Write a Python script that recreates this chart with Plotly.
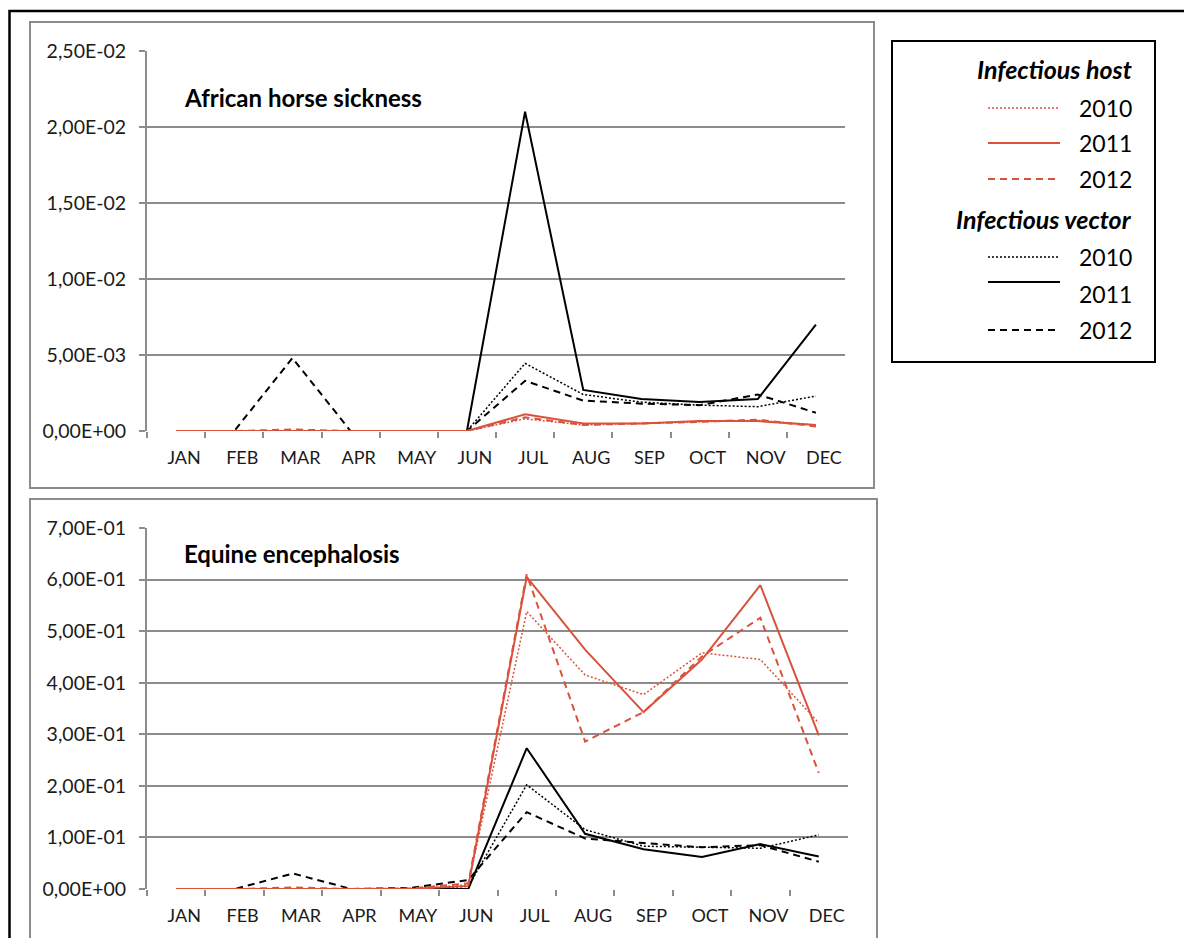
import plotly.graph_objects as go

OFF = 8  # page body margin
W, H = 1192 - OFF, 938 - OFF
months = ["JAN", "FEB", "MAR", "APR", "MAY", "JUN", "JUL", "AUG", "SEP", "OCT", "NOV", "DEC"]

# African horse sickness
ahs_host_2010 = [0, 0, 0, 0, 0, 0, 0.0008, 0.0004, 0.0005, 0.0006, 0.0007, 0.0004]
ahs_host_2011 = [0, 0, 0, 0, 0, 0, 0.0011, 0.0005, 0.0005, 0.00065, 0.00065, 0.0004]
ahs_host_2012 = [0, 0, 0.0001, 0, 0, 0, 0.0009, 0.0004, 0.0005, 0.0006, 0.00075, 0.0003]
ahs_vec_2010 = [0, 0, 0, 0, 0, 0, 0.00445, 0.0024, 0.0019, 0.0017, 0.0016, 0.0023]
ahs_vec_2011 = [0, 0, 0, 0, 0, 0, 0.0210, 0.0027, 0.0021, 0.0019, 0.0021, 0.0070]
ahs_vec_2012 = [0, 0, 0.0048, 0, 0, 0, 0.0033, 0.0020, 0.0018, 0.0017, 0.0024, 0.0012]

# Equine encephalosis
ee_host_2010 = [0, 0, 0, 0, 0, 0.008, 0.538, 0.415, 0.377, 0.458, 0.445, 0.322]
ee_host_2011 = [0, 0, 0, 0, 0, 0.006, 0.605, 0.464, 0.343, 0.445, 0.589, 0.298]
ee_host_2012 = [0, 0, 0.003, 0, 0.001, 0.011, 0.610, 0.286, 0.343, 0.451, 0.526, 0.225]
ee_vec_2010 = [0, 0, 0, 0, 0, 0.005, 0.202, 0.115, 0.083, 0.081, 0.079, 0.105]
ee_vec_2011 = [0, 0, 0, 0, 0, 0, 0.273, 0.107, 0.077, 0.062, 0.087, 0.063]
ee_vec_2012 = [0, 0, 0.030, 0, 0.002, 0.0175, 0.149, 0.098, 0.089, 0.081, 0.085, 0.053]

ahs_tickvals = [0, 0.005, 0.01, 0.015, 0.02, 0.025]
ahs_ticktext = ["0,00E+00", "5,00E-03", "1,00E-02", "1,50E-02", "2,00E-02", "2,50E-02"]
ee_tickvals = [0, 0.1, 0.2, 0.3, 0.4, 0.5, 0.6, 0.7]
ee_ticktext = ["0,00E+00", "1,00E-01", "2,00E-01", "3,00E-01", "4,00E-01", "5,00E-01", "6,00E-01", "7,00E-01"]

years = ["2010", "2011", "2012"]
RED = "#D9533C"
BLACK = "#000000"
GRID = "#8C8C8C"
FONT = "Lato"
dash_styles = ["2px,2px", "solid", "7px,5px"]
widths = [1.5, 2, 2]

fig = go.Figure()

def add_series(vals_list, color, xa, ya):
    for vals, d, w in zip(vals_list, dash_styles, widths):
        fig.add_trace(go.Scatter(x=months, y=vals, mode="lines", xaxis=xa, yaxis=ya,
                                 line=dict(color=color, width=w, dash=d),
                                 showlegend=False, hoverinfo="skip"))

add_series([ahs_vec_2010, ahs_vec_2011, ahs_vec_2012], BLACK, "x", "y")
add_series([ahs_host_2010, ahs_host_2011, ahs_host_2012], RED, "x", "y")
add_series([ee_vec_2010, ee_vec_2011, ee_vec_2012], BLACK, "x2", "y2")
add_series([ee_host_2010, ee_host_2011, ee_host_2012], RED, "x2", "y2")

def px(x):
    return (x - OFF) / W

def py(y):
    return 1 - (y - OFF) / H

xcommon = dict(type="category", categoryorder="array", categoryarray=months,
               range=[-0.5, 11.5], showgrid=False, zeroline=False, automargin=False,
               showline=False, ticks="outside", tickson="boundaries", ticklen=6,
               tickcolor=GRID, tickwidth=2, ticklabelstandoff=14, ticklabelshift=8,
               tickfont=dict(family=FONT, size=18, color="#1a1a1a"))
ycommon = dict(showgrid=True, gridcolor=GRID, gridwidth=2, zeroline=False, automargin=False,
               showline=True, linecolor=GRID, linewidth=2, ticks="outside",
               ticklen=6, tickcolor=GRID, tickwidth=2, ticklabelstandoff=9,
               tickfont=dict(family=FONT, size=19.5, color="#1a1a1a"))

fig.update_layout(
    width=W, height=H, margin=dict(l=0, r=0, t=0, b=0, pad=0, autoexpand=False),
    paper_bgcolor="white", plot_bgcolor="white", showlegend=False,
    xaxis=dict(domain=[px(147), px(845)], anchor="y", **xcommon),
    yaxis=dict(domain=[py(431), py(51)], anchor="x", range=[0, 0.025],
               tickvals=ahs_tickvals, ticktext=ahs_ticktext, **ycommon),
    xaxis2=dict(domain=[px(147), px(848)], anchor="y2", **xcommon),
    yaxis2=dict(domain=[py(889), py(528)], anchor="x2", range=[0, 0.7],
                tickvals=ee_tickvals, ticktext=ee_ticktext, **ycommon),
)

shapes = []
shapes.append(dict(type="rect", xref="paper", yref="paper", x0=px(9.5), x1=px(1205), y0=py(960), y1=py(11),
                   line=dict(color="black", width=2.5), layer="below"))
shapes.append(dict(type="rect", xref="paper", yref="paper", x0=px(30), x1=px(874), y0=py(488), y1=py(22),
                   line=dict(color=GRID, width=2), layer="below"))
shapes.append(dict(type="rect", xref="paper", yref="paper", x0=px(30), x1=px(877), y0=py(960), y1=py(499),
                   line=dict(color=GRID, width=2), layer="below"))
shapes.append(dict(type="rect", xref="paper", yref="paper", x0=px(892), x1=px(1155), y0=py(362), y1=py(41),
                   line=dict(color="black", width=2), fillcolor="white"))

annotations = [
    dict(text="<b>African horse sickness</b>", x=px(182), y=py(97), xref="paper", yref="paper",
         xanchor="left", yanchor="middle", showarrow=False, font=dict(family=FONT, size=24, color="black")),
    dict(text="<b>Equine encephalosis</b>", x=px(182), y=py(553), xref="paper", yref="paper",
         xanchor="left", yanchor="middle", showarrow=False, font=dict(family=FONT, size=24, color="black")),
    dict(text="<b><i>Infectious host</i></b>", x=px(1134), y=py(69), xref="paper", yref="paper",
         xanchor="right", yanchor="middle", showarrow=False, font=dict(family=FONT, size=25, color="black")),
    dict(text="<b><i>Infectious vector</i></b>", x=px(1134), y=py(219), xref="paper", yref="paper",
         xanchor="right", yanchor="middle", showarrow=False, font=dict(family=FONT, size=25, color="black")),
]

legend_rows = [
    (RED, 0, 108, 108), (RED, 1, 143, 143), (RED, 2, 179, 179),
    (BLACK, 0, 257, 257), (BLACK, 1, 282, 294), (BLACK, 2, 330, 330),
]
for color, i, yline, ytext in legend_rows:
    shapes.append(dict(type="line", xref="paper", yref="paper", x0=px(988), x1=px(1060),
                       y0=py(yline), y1=py(yline),
                       line=dict(color=color, width=widths[i], dash=dash_styles[i])))
    annotations.append(dict(text=years[i], x=px(1134), y=py(ytext), xref="paper", yref="paper",
                            xanchor="right", yanchor="middle", showarrow=False,
                            font=dict(family=FONT, size=23, color="black")))

fig.update_layout(shapes=shapes, annotations=annotations)
fig.write_html("out.html")
